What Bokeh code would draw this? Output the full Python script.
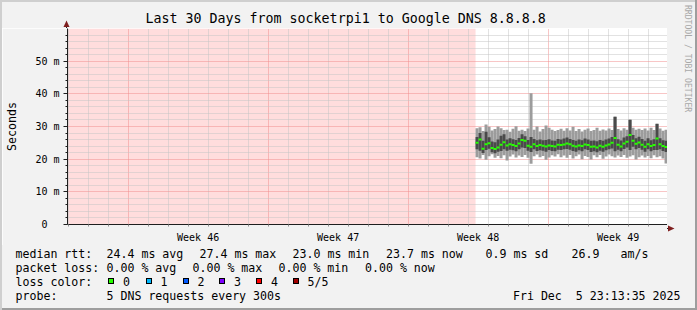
from bokeh.plotting import figure
from bokeh.layouts import column, row
from bokeh.models import Range1d, FixedTicker, Grid, Div, ColumnDataSource
from bokeh.embed import file_html
from bokeh.resources import INLINE

FONT = "DejaVu Sans Mono"

# ---------------- data ----------------
# time axis in days relative to Sun Nov 9 2025 00:00 (start of "Week 46")
range_start = -3.0322      # Wed Nov 5 23:13:35 2025
range_end = 26.9678        # Fri Dec 5 23:13:35 2025
data_start = 17.37         # first stored sample
step = 0.15                # days per consolidated sample

week_lines = [0, 7, 14, 21]
week_label_pos = [3.5, 10.5, 17.5, 24.5]
week_labels = ["Week 46", "Week 47", "Week 48", "Week 49"]
day_lines = list(range(-3, 27))

y_ticks = [0, 10, 20, 30, 40, 50]
y_labels = ["0\u00a0\u00a0", "10 m", "20 m", "30 m", "40 m", "50 m"]
y_minor = [2, 4, 6, 8, 12, 14, 16, 18, 22, 24, 26, 28, 32, 34, 36, 38,
           42, 44, 46, 48, 52, 54, 56, 58]
y_max = 60

# round-trip times in ms
median = [25.0, 26.0, 23.2, 24.6, 24.9, 23.4, 23.1, 23.6, 24.4, 25.2,
          24.2, 24.6, 24.3, 24.0, 24.8, 25.9, 25.6, 24.1, 23.8, 24.6,
          24.0, 24.3, 24.1, 23.9, 24.2, 24.0, 23.9, 24.4, 24.3, 24.5,
          24.8, 24.6, 24.1, 23.9, 24.2, 24.0, 24.5, 24.3, 23.8, 23.9,
          23.6, 24.1, 23.8, 24.2, 24.5, 25.0, 26.5, 24.4, 23.9, 24.8,
          25.3, 27.4, 25.6, 24.7, 25.1, 24.4, 23.8, 24.6, 24.0, 24.3,
          26.3, 24.6, 24.0, 23.7]
outer_hi = [29.5, 29.8, 28.6, 30.6, 29.9, 28.8, 29.2, 30.0, 29.5, 28.9,
            29.0, 28.4, 29.3, 30.1, 28.7, 29.0, 28.6, 29.4, 40.2, 29.0,
            30.0, 28.5, 29.2, 30.3, 29.6, 29.0, 28.6, 28.9, 29.3, 28.7,
            29.5, 28.8, 29.9, 28.6, 29.2, 28.5, 29.0, 29.4, 28.6, 28.9,
            29.6, 28.7, 29.1, 28.8, 29.4, 28.9, 33.0, 29.2, 28.8, 29.5,
            29.0, 32.2, 29.6, 29.0, 29.3, 28.9, 29.4, 28.8, 29.6, 28.9,
            30.9, 29.4, 28.7, 29.0]
outer_lo = [20.6, 20.2, 21.3, 19.8, 20.9, 21.5, 20.4, 21.0, 20.3, 21.2,
            19.6, 20.8, 21.4, 20.5, 21.1, 20.7, 21.3, 20.4, 18.6, 20.9,
            21.4, 20.6, 21.0, 19.8, 20.5, 21.2, 20.8, 21.5, 20.6, 21.1,
            20.4, 21.3, 20.2, 20.9, 21.4, 20.0, 21.0, 20.7, 19.9, 21.2,
            20.6, 21.3, 20.1, 20.8, 21.4, 20.9, 20.5, 21.1, 20.7, 21.3,
            20.4, 20.8, 21.2, 19.9, 20.6, 21.1, 20.5, 21.0, 20.3, 21.2,
            20.6, 20.9, 20.2, 18.7]
inner_hi = [26.8, 28.0, 25.6, 28.4, 26.7, 25.4, 25.2, 26.0, 27.2, 27.6,
            26.0, 26.4, 26.1, 25.9, 26.5, 27.6, 27.0, 25.9, 26.8, 26.2,
            25.8, 26.0, 25.8, 25.9, 26.1, 25.7, 25.6, 26.2, 26.0, 26.3,
            26.6, 26.2, 25.9, 25.6, 26.0, 25.8, 26.3, 26.0, 25.6, 25.7,
            25.5, 25.9, 25.6, 26.0, 26.3, 26.8, 33.0, 26.1, 25.7, 26.6,
            27.0, 32.0, 27.4, 26.4, 26.9, 26.2, 25.6, 26.4, 25.8, 26.1,
            30.8, 26.4, 25.8, 25.6]
inner_lo = [23.0, 22.6, 21.9, 22.8, 23.2, 22.1, 21.8, 22.3, 22.5, 23.0,
            22.6, 22.9, 22.7, 22.4, 23.0, 23.6, 23.4, 22.6, 22.2, 23.0,
            22.5, 22.7, 22.6, 22.3, 22.8, 22.5, 22.4, 22.9, 22.8, 23.0,
            23.1, 22.9, 22.5, 22.3, 22.7, 22.4, 23.0, 22.8, 22.2, 22.4,
            22.1, 22.6, 22.3, 22.7, 23.0, 23.3, 22.4, 22.9, 22.4, 23.1,
            23.6, 22.8, 23.8, 23.0, 23.4, 22.9, 22.3, 23.0, 22.4, 22.8,
            22.8, 23.0, 22.5, 22.2]

title_text = "Last 30 Days from socketrpi1 to Google DNS 8.8.8.8"
y_title = "Seconds"
credit_text = "RRDTOOL / TOBI OETIKER"
row1 = ["median rtt:", "24.4 ms avg", "27.4 ms max", "23.0 ms min",
        "23.7 ms now", "0.9 ms sd", "26.9", "am/s"]
row2 = ["packet loss:", "0.00 % avg", "0.00 % max", "0.00 % min", "0.00 % now"]
loss_title = "loss color:"
loss_names = ["0", "1", "2", "3", "4", "5/5"]
loss_colors = ["#26ff00", "#00b8ff", "#0059ff", "#7e00ff", "#ff0000", "#a10000"]
probe_title = "probe:"
probe_text = "5 DNS requests every 300s"
stamp_text = "Fri Dec  5 23:13:35 2025"

# ---------------- layout (page pixels) ----------------
row1_x = [15.5, 106.5, 199.5, 292.5, 386, 485.5, 571.5, 620.5]
row2_x = [15.5, 106.5, 192.5, 278.5, 365]
swatch_x = [108, 145.5, 182.5, 219, 256, 292.5]
row_y = [258, 272, 286, 300]
SHADE_A, SHADE_B, BACK = "#cfcfcf", "#9e9e9e", "#f2f2f2"
AXIS_C, ARROW_C = "#1f1f1f", "#7f1f1f"
LEG_X0, LEG_Y0 = 2, 245          # page position of the legend block
TOP_X0, TOP_Y0 = 2, 2            # page position of the title block
CR_X0, CR_Y0 = 667, 2            # page position of the right-hand block

n = len(median)
left = [data_start + i * step for i in range(n)]
right = [l + step for l in left]
src = ColumnDataSource(dict(left=left, right=right, med=median,
                            o_lo=outer_lo, o_hi=outer_hi,
                            i_lo=inner_lo, i_hi=inner_hi))

# ---------------- main graph ----------------
p = figure(width=665, height=217, output_backend="svg", toolbar_location=None,
           title=None,
           x_range=Range1d(range_start, range_end), y_range=Range1d(0, y_max),
           min_border_left=65, min_border_right=0, min_border_top=0,
           min_border_bottom=17)
p.background_fill_color = "white"
p.border_fill_color = BACK
p.outline_line_color = None
p.xgrid.visible = False
p.ygrid.visible = False

# unknown (no data) region
p.quad(left=range_start, right=data_start, bottom=0, top=y_max,
       fill_color="#ffdddd", line_color=None, level="image")

# grids
gcol = "#c4c4c4"
mcol = "#f08c8c"
p.add_layout(Grid(dimension=0, ticker=FixedTicker(ticks=[d for d in day_lines if d not in week_lines]),
                  grid_line_color=gcol, grid_line_dash="1 1"))
p.add_layout(Grid(dimension=0, ticker=FixedTicker(ticks=week_lines),
                  grid_line_color=mcol, grid_line_dash="1 1"))
p.add_layout(Grid(dimension=1, ticker=FixedTicker(ticks=y_minor),
                  grid_line_color=gcol, grid_line_dash="1 1"))
p.add_layout(Grid(dimension=1, ticker=FixedTicker(ticks=y_ticks[1:]),
                  grid_line_color=mcol, grid_line_dash="1 1"))

# smoke + median
p.quad(left="left", right="right", bottom="o_lo", top="o_hi", source=src,
       fill_color="#9c9c9c", line_color=None)
p.quad(left="left", right="right", bottom="i_lo", top="i_hi", source=src,
       fill_color="#4a4a4a", line_color=None)
p.segment(x0="left", x1="right", y0="med", y1="med", source=src,
          line_color=loss_colors[0], line_width=2)

# axes
ax = p.xaxis[0]
ax.ticker = FixedTicker(ticks=week_label_pos, minor_ticks=day_lines)
ax.major_label_overrides = {k: v for k, v in zip(week_label_pos, week_labels)}
ax.axis_line_color = AXIS_C
ax.major_tick_line_color = None
ax.major_tick_in = 0
ax.major_tick_out = 0
ax.minor_tick_in = 0
ax.minor_tick_out = 2
ax.minor_tick_line_color = "#8f8f8f"
ax.major_label_standoff = 5
ax.major_label_text_font = FONT
ax.major_label_text_font_size = "10px"
ax.major_label_text_color = "black"

ay = p.yaxis[0]
ay.ticker = FixedTicker(ticks=y_ticks, minor_ticks=y_minor)
ay.major_label_overrides = {k: v for k, v in zip(y_ticks, y_labels)}
ay.axis_line_color = AXIS_C
ay.major_tick_in = 0
ay.major_tick_out = 4
ay.minor_tick_in = 0
ay.minor_tick_out = 2
ay.major_tick_line_color = AXIS_C
ay.minor_tick_line_color = AXIS_C
ay.major_label_standoff = 4
ay.major_label_text_font = FONT
ay.major_label_text_font_size = "10px"
ay.major_label_text_color = "black"
ay.axis_label = y_title
ay.axis_label_standoff = 13
ay.axis_label_text_font = FONT
ay.axis_label_text_font_size = "11.6px"
ay.axis_label_text_font_style = "normal"
ay.axis_label_text_color = "black"


# ---------------- HTML blocks around the graph ----------------
def block(w, h, inner):
    return ('<div style="position:relative;width:%dpx;height:%dpx;background:%s;overflow:hidden;'
            "font-family:'%s';color:#000\">%s</div>" % (w, h, BACK, FONT, inner))


def span(text, x, top, size, lh, extra=""):
    return ('<span style="position:absolute;left:%.1fpx;top:%.1fpx;font-size:%s;line-height:%dpx;'
            'white-space:pre;%s">%s</span>' % (x, top, size, lh, extra, text))


# title block (page x 2..667, y 2..28) with the top of the y axis arrow
top_inner = span(title_text, 145.5 - TOP_X0, 24 - 12.6 - TOP_Y0, "13.3px", 16)
top_inner += ('<svg style="position:absolute;left:0;top:0" width="665" height="26">'
              '<line x1="%.1f" y1="%.1f" x2="%.1f" y2="26" stroke="%s" stroke-width="1"/>'
              '<polygon points="%.1f,%.1f %.1f,%.1f %.1f,%.1f" fill="%s"/></svg>'
              % (66.5 - TOP_X0, 24 - TOP_Y0, 66.5 - TOP_X0, AXIS_C,
                 63.5 - TOP_X0, 27 - TOP_Y0, 69.5 - TOP_X0, 27 - TOP_Y0,
                 66.5 - TOP_X0, 20.5 - TOP_Y0, ARROW_C))
top_div = Div(text=block(665, 26, top_inner), width=665, height=26, margin=0)

# right block (page x 667..695, y 2..245): credit and the x axis arrow
cr_inner = span(credit_text, 683 - CR_X0, 5 - CR_Y0, "8.1px", 10,
                "writing-mode:vertical-rl;color:#a8a8a8")
cr_inner += ('<svg style="position:absolute;left:0;top:0" width="28" height="243">'
             '<line x1="0" y1="%.1f" x2="2" y2="%.1f" stroke="%s" stroke-width="1"/>'
             '<polygon points="%.1f,%.1f %.1f,%.1f %.1f,%.1f" fill="%s"/></svg>'
             % (228.5 - CR_Y0, 228.5 - CR_Y0, AXIS_C,
                668 - CR_X0, 225.5 - CR_Y0, 668 - CR_X0, 231.5 - CR_Y0,
                674.5 - CR_X0, 228.5 - CR_Y0, ARROW_C))
cr_div = Div(text=block(28, 243, cr_inner), width=28, height=243, margin=0)

# legend block (page x 2..695, y 245..308)
ASC = 11  # baseline offset inside a 14px line box at 11.6px
parts = []


def lg(text, x, y, extra=""):
    parts.append(span(text, x - LEG_X0, y - ASC - LEG_Y0, "11.6px", 14, extra))


for t, x in zip(row1, row1_x):
    lg(t, x, row_y[0])
for t, x in zip(row2, row2_x):
    lg(t, x, row_y[1])
lg(loss_title, row1_x[0], row_y[2])
for name, col, x in zip(loss_names, loss_colors, swatch_x):
    parts.append('<span style="position:absolute;left:%.1fpx;top:%dpx;width:6px;height:6px;'
                 'border:1px solid #000;background:%s"></span>' % (x - LEG_X0, 278 - LEG_Y0, col))
    lg(name, x + 15, row_y[2])
lg(probe_title, row1_x[0], row_y[3])
lg(probe_text, row1_x[1], row_y[3])
parts.append('<span style="position:absolute;right:%.1fpx;top:%.1fpx;font-size:11.6px;'
             'line-height:14px;white-space:pre">%s</span>'
             % (LEG_X0 + 693 - 680.5, row_y[3] - ASC - LEG_Y0, stamp_text))
leg_div = Div(text=block(693, 63, "".join(parts)), width=693, height=63, margin=0)


# ---------------- 3-D frame shading ----------------
def strip(w, h, c):
    return Div(text="", width=w, height=h, margin=0,
               styles={"background-color": c})


inner = column(strip(693, 2, SHADE_A),
               row(column(top_div, p, spacing=0), cr_div, spacing=0),
               leg_div,
               strip(693, 2, SHADE_B), spacing=0)
layout = row(strip(2, 310, SHADE_A), inner, strip(2, 310, SHADE_B), spacing=0)

open("out.html", "w").write(file_html(layout, INLINE))
